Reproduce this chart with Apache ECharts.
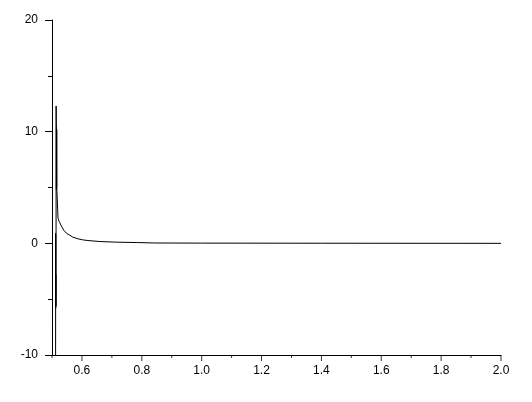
<!DOCTYPE html>
<html>
<head>
<meta charset="utf-8">
<script src="https://cdn.jsdelivr.net/npm/echarts@6/dist/echarts.min.js"></script>
<style>
html, body { margin: 0; padding: 0; background: #fff; }
#chart { width: 532px; height: 402px; }
</style>
</head>
<body>
<div id="chart"></div>
<script>
// curve samples
const xValues = [0.5118, 0.5122, 0.5126, 0.5129, 0.5132, 0.5135, 0.5138, 0.5142, 0.5146, 0.5150,
    0.5154, 0.5158, 0.5162, 0.5175, 0.5190, 0.520, 0.524, 0.5314, 0.540, 0.548,
    0.5535, 0.570, 0.587, 0.603, 0.620, 0.660, 0.720, 0.786, 0.843, 1.0, 1.4, 2.0];
const yValues = [-30, 0.9, -5.8, -2.8, -5.6, -3.0, 12.3, 10.5, 4.8, 10.4,
    5.0, 10.2, 4.8, 4.0, 3.0, 2.26, 1.95, 1.55, 1.15, 0.91,
    0.78, 0.55, 0.40, 0.31, 0.25, 0.16, 0.10, 0.07, 0.03, 0.02, 0.01, 0.0];

const xRange = [0.5, 2.0];
const yRange = [-10, 20];
// x tick marks: long ones under the labels, short ones in between
const xMajorTicks = [0.6, 0.8, 1.0, 1.2, 1.4, 1.6, 1.8, 2.0];
const xMinorTicks = [0.5, 0.7, 0.9, 1.1, 1.3, 1.5, 1.7, 1.9];

const curve = xValues.map((x, i) => [x, yValues[i]]);

const font = { color: '#000', fontFamily: 'Liberation Sans, Arial, sans-serif', fontSize: 12 };

const chart = echarts.init(document.getElementById('chart'));
chart.setOption({
    animation: false,
    grid: { left: 52, right: 31, top: 20, bottom: 47 },
    xAxis: {
        type: 'value', min: xRange[0], max: xRange[1], interval: 0.1,
        axisLine: { show: true, onZero: false, lineStyle: { color: '#000' } },
        axisTick: { show: false },
        axisLabel: Object.assign({
            margin: 10,
            formatter: v => (Math.round(v * 10) % 2 === 0 ? v.toFixed(1) : '')
        }, font),
        splitLine: { show: false }
    },
    yAxis: {
        type: 'value', min: yRange[0], max: yRange[1], interval: 10,
        axisLine: { show: true, onZero: false, lineStyle: { color: '#000' } },
        axisTick: { show: true, length: 7, lineStyle: { color: '#000' } },
        minorTick: { show: true, splitNumber: 2, length: 4, lineStyle: { color: '#000' } },
        axisLabel: Object.assign({ margin: 14 }, font),
        splitLine: { show: false }
    },
    series: [
        {
            type: 'line',
            data: curve,
            showSymbol: false,
            clip: true,
            lineStyle: { color: '#000', width: 1 }
        },
        {
            // long x ticks
            type: 'scatter',
            data: xMajorTicks.map(x => [x, yRange[0]]),
            symbol: 'rect',
            symbolSize: [1, 6],
            symbolOffset: [0, 3],
            itemStyle: { color: '#000' },
            clip: false,
            silent: true
        },
        {
            // short x ticks
            type: 'scatter',
            data: xMinorTicks.map(x => [x, yRange[0]]),
            symbol: 'rect',
            symbolSize: [1, 3],
            symbolOffset: [0, 1.5],
            itemStyle: { color: '#000' },
            clip: false,
            silent: true
        }
    ]
});
</script>
</body>
</html>
